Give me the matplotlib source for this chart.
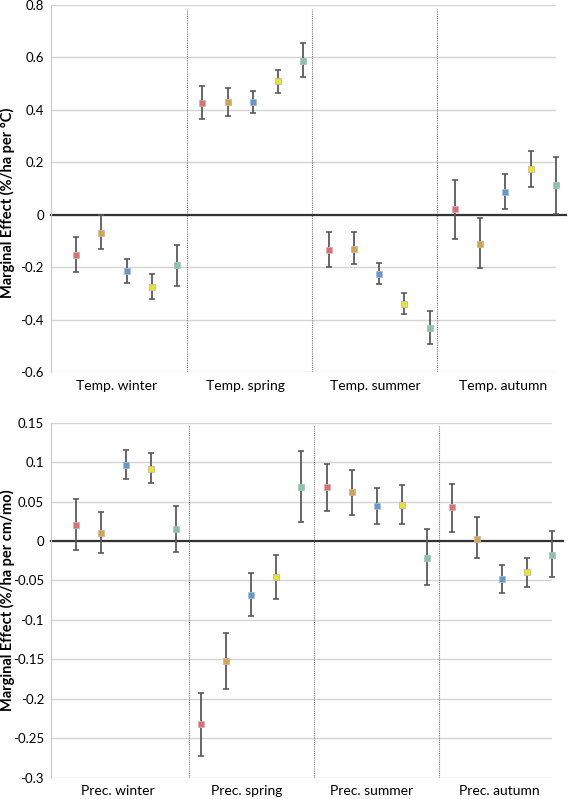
import matplotlib
matplotlib.use("Agg")
import matplotlib.pyplot as plt
import numpy as np

plt.rcParams['font.family'] = ['Lato', 'DejaVu Sans']

# five series per group, same colour order in every group
colors = ['#e56b6f', '#d9a441', '#5b9bd5', '#f2e21b', '#7fc8a9']

temp_groups = ['Temp. winter', 'Temp. spring', 'Temp. summer', 'Temp. autumn']
temp_vals = [-0.155, -0.07, -0.216, -0.274, -0.193,
             0.425, 0.43, 0.43, 0.509, 0.588,
             -0.134, -0.129, -0.225, -0.34, -0.431,
             0.022, -0.111, 0.087, 0.176, 0.112]
temp_hi = [-0.085, 0.0, -0.17, -0.225, -0.117,
           0.49, 0.482, 0.471, 0.551, 0.655,
           -0.066, -0.066, -0.183, -0.298, -0.368,
           0.134, -0.011, 0.155, 0.245, 0.219]
temp_lo = [-0.22, -0.13, -0.262, -0.32, -0.271,
           0.365, 0.377, 0.39, 0.464, 0.526,
           -0.201, -0.187, -0.266, -0.379, -0.495,
           -0.092, -0.202, 0.022, 0.106, 0.003]

prec_groups = ['Prec. winter', 'Prec. spring', 'Prec. summer', 'Prec. autumn']
prec_vals = [0.02, 0.01, 0.0966, 0.091, 0.015,
             -0.232, -0.1525, -0.068, -0.0456, 0.069,
             0.068, 0.062, 0.0447, 0.0456, -0.0214,
             0.0425, 0.003, -0.048, -0.0395, -0.0173]
prec_hi = [0.053, 0.0366, 0.115, 0.111, 0.045,
           -0.193, -0.117, -0.041, -0.0177, 0.114,
           0.098, 0.09, 0.0675, 0.071, 0.0158,
           0.072, 0.030, -0.030, -0.022, 0.0127]
prec_lo = [-0.011, -0.0157, 0.078, 0.074, -0.014,
           -0.272, -0.188, -0.095, -0.074, 0.0237,
           0.0377, 0.033, 0.022, 0.021, -0.056,
           0.012, -0.022, -0.066, -0.058, -0.046]


def draw_panel(ax, vals, hi, lo, groups, ylim, yticks, ylabel, dividers, label_x,
               zero_ext, label_pos):
    x = np.arange(1, len(vals) + 1)
    vals = np.array(vals)
    yerr = [vals - np.array(lo), np.array(hi) - vals]
    ax.errorbar(x, vals, yerr=yerr, fmt='none', ecolor='#5a5a5a', elinewidth=1.3,
                capsize=2.5, capthick=1.2, clip_on=False, zorder=3)
    for i in range(len(vals)):
        c = colors[i % 5]
        ax.plot(x[i], vals[i], marker='s', ms=5, color=c, mec='#bbbbbb', mew=0.6,
                clip_on=False, zorder=4)
    ax.set_xlim(0, 20)
    ax.set_ylim(*ylim)
    ax.set_yticks(yticks)
    ax.set_yticklabels([('%g' % t) for t in yticks], fontsize=9.5)
    ax.set_xticks([])
    ax.grid(axis='y', color='#d4d4d4', lw=1)
    ax.set_axisbelow(True)
    for s in ['top', 'right', 'bottom']:
        ax.spines[s].set_visible(False)
    ax.spines['left'].set_color('#c8c8c8')
    ax.tick_params(axis='y', length=0, pad=5)
    ax.plot([0, zero_ext], [0, 0], color='#333333', lw=1.6, clip_on=False, zorder=2)
    for d in dividers:
        ax.axvline(d, color='#777777', lw=0.8, ls=(0, (1, 1)), ymax=0.99, zorder=1)
    for lx, g in zip(label_x, groups):
        ax.text(lx, -0.022, g, transform=ax.get_xaxis_transform(), ha='center',
                va='top', fontsize=10)
    ax.set_ylabel(ylabel, fontsize=10.5, fontweight='bold')
    ax.yaxis.set_label_coords(*label_pos)


fig = plt.figure(figsize=(5.68, 7.99), dpi=100)
ax1 = fig.add_axes([0.0893, 0.5344, 0.8896, 0.4593])
ax2 = fig.add_axes([0.0898, 0.0267, 0.882, 0.4443])

draw_panel(ax1, temp_vals, temp_hi, temp_lo, temp_groups, (-0.6, 0.8),
           [-0.6, -0.4, -0.2, 0, 0.2, 0.4, 0.6, 0.8],
           'Marginal Effect (%/ha per °C)', [5.4, 10.35, 15.3],
           [2.6, 7.7, 12.85, 17.9], 20.4, (-0.071, 0.46))
draw_panel(ax2, prec_vals, prec_hi, prec_lo, prec_groups, (-0.3, 0.15),
           [-0.3, -0.25, -0.2, -0.15, -0.1, -0.05, 0, 0.05, 0.1, 0.15],
           'Marginal Effect (%/ha per cm/mo)', [5.5, 10.5, 15.5],
           [2.67, 7.8, 12.8, 17.9], 20.45, (-0.072, 0.5))

fig.savefig('out.png', dpi=100)
